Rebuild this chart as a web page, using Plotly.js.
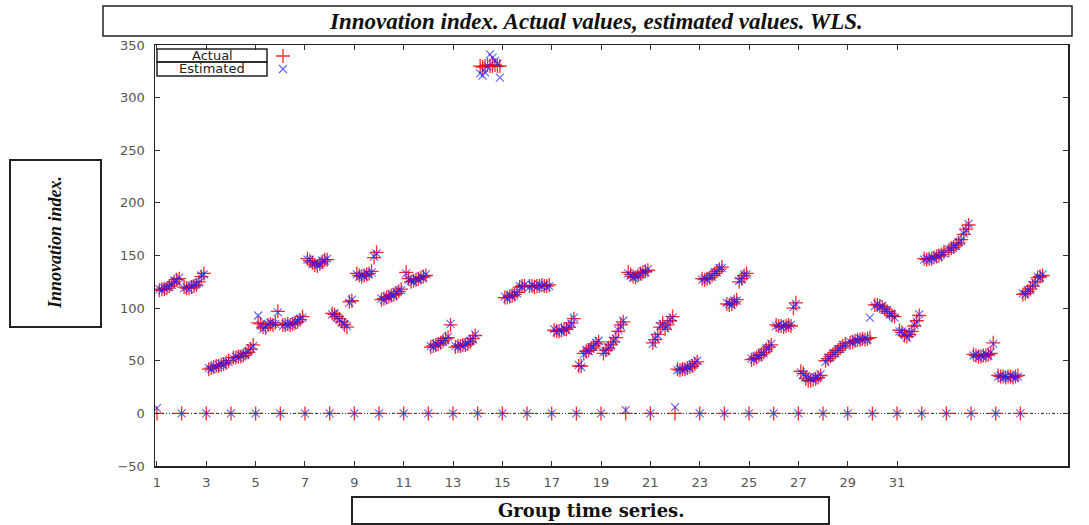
<!DOCTYPE html>
<html>
<head>
<meta charset="utf-8">
<script src="https://cdn.plot.ly/plotly-3.0.1.min.js"></script>
<style>html,body{margin:0;padding:0;background:#fff;}#chart{width:1089px;height:525px;}</style>
</head>
<body>
<div id="chart"></div>
<script>
// ---------- DATA ----------
const groupIds = [1,2,3,4,5,6,7,8,9,10,11,12,13,14,15,16,17,18,19,20,21,22,23,24,25,26,27,28,29,30,31,32,33,34,35,36];
const zeroActual = [0,0,0,0,0,0,0,0,0,0,0,0,0,0,0,0,0,0,0,0,0,0,0,0,0,0,0,0,0,0,0,0,0,0,0,0];
const zeroEstimated = [5,0,0,0,0,0,0,0,0,0,0,0,0,0,0,0,0,0,0,3,0,6,0,0,0,0,0,0,0,0,0,0,0,0,0,0];
const actualValues = [
  [117,118,118,119,121,123,125,127,128],
  [120,119,119,120,121,122,125,130,133],
  [42,43,44,45,45,46,47,48,50],
  [53,53,54,54,55,57,58,61,65],
  [86,85,82,81,84,85,84,86,97],
  [84,84,85,84,85,86,87,89,92],
  [147,145,143,141,140,142,144,146,146],
  [95,94,92,90,87,84,82,106,107],
  [133,131,130,131,132,133,135,148,153],
  [108,109,110,111,112,113,114,116,118],
  [134,128,125,126,127,128,129,130,131],
  [63,64,65,66,67,69,71,72,84],
  [63,64,64,65,65,66,68,71,74],
  [330,329,330,331,330,330,331,330,330],
  [110,110,111,112,113,115,120,121,121],
  [121,121,120,121,121,122,121,121,122],
  [79,78,78,79,80,80,82,86,90],
  [45,45,57,59,60,62,64,66,68],
  [57,60,62,65,68,72,78,84,87],
  [134,132,130,129,131,133,134,135,136],
  [67,70,75,82,86,80,84,88,92],
  [42,41,42,42,43,44,45,47,49],
  [128,127,128,129,131,133,135,137,139],
  [104,103,104,106,108,125,128,131,133],
  [51,52,53,55,56,58,61,63,65],
  [84,83,83,82,83,84,83,100,105],
  [40,38,33,31,31,32,33,34,36],
  [50,52,54,56,58,60,62,64,66],
  [67,68,69,70,70,71,70,71,72],
  [103,103,102,101,99,97,95,93,92],
  [79,77,74,73,75,78,83,88,93],
  [147,146,147,147,148,149,150,151,153],
  [155,157,158,160,162,165,170,175,179],
  [56,55,54,54,55,55,56,57,67],
  [36,35,35,34,35,35,34,35,36],
  [113,114,116,118,121,125,129,130,131]
];
const estimatedValues = [
  [118,117,119,120,120,122,126,126,129],
  [119,120,118,121,122,123,124,131,132],
  [43,42,44,44,46,47,46,49,49],
  [52,54,53,55,56,56,59,62,64],
  [93,84,80,82,85,86,85,85,96],
  [83,85,84,85,84,87,88,90,91],
  [146,146,142,142,141,141,145,145,147],
  [94,95,91,89,86,85,83,105,108],
  [132,130,131,130,133,132,134,149,152],
  [109,108,111,110,113,112,115,117,117],
  [133,127,126,125,128,127,130,129,132],
  [64,63,66,65,68,68,70,73,85],
  [64,63,65,64,66,67,69,70,75],
  [323,321,324,330,341,338,335,332,319],
  [111,109,112,111,114,114,121,120,122],
  [120,122,121,120,122,121,122,120,121],
  [80,77,79,78,81,79,83,85,91],
  [46,44,56,60,59,63,63,67,69],
  [58,59,63,64,69,71,79,83,88],
  [133,131,129,130,130,132,135,134,137],
  [66,71,74,83,85,81,83,89,91],
  [41,42,41,43,44,43,46,48,50],
  [127,128,127,130,130,134,134,138,138],
  [105,104,103,107,107,126,127,132,132],
  [52,51,54,54,57,57,62,62,66],
  [83,84,82,83,84,83,84,101,104],
  [39,37,35,34,33,32,34,35,37],
  [49,53,53,57,57,61,61,65,65],
  [68,67,70,69,71,70,71,70,91],
  [102,104,101,102,98,98,94,94,91],
  [78,78,75,72,76,77,84,87,94],
  [146,147,146,148,147,150,149,152,152],
  [156,156,159,159,163,164,171,174,180],
  [55,56,53,55,54,56,55,58,66],
  [35,36,34,35,34,36,35,34,35],
  [114,113,117,117,122,124,130,129,132]
];
const xTickVals = [1,3,5,7,9,11,13,15,17,19,21,23,25,27,29,31];
const xTickText = ["1","3","5","7","9","11","13","15","17","19","21","23","25","27","29","31"];
const yTickVals = [-50,0,50,100,150,200,250,300,350];
const titleText = "Innovation index. Actual values, estimated values. WLS.";
const yTitleText = "Innovation index.";
const xTitleText = "Group time series.";
const legendLabels = ["Actual", "Estimated"];

// ---------- BUILD SERIES ----------
function build(zeros, groups) {
  const xs = [], ys = [];
  groupIds.forEach((g, i) => {
    const vals = groups[i];
    const step = 1 / (vals.length + 1);
    xs.push(g); ys.push(zeros[i]);
    vals.forEach((v, t) => { xs.push(g + (t + 1) * step); ys.push(v); });
  });
  return {xs, ys};
}
const A = build(zeroActual, actualValues);
const E = build(zeroEstimated, estimatedValues);

// pixel helpers for decorations (plot area: left 155, right 1068, top 45, bottom 466)
const L = 155, R = 1068, T = 45, B = 466;
const px = v => (v - L) / (R - L);
const py = v => (B - v) / (B - T);

const traces = [
  {x: A.xs, y: A.ys, type: 'scatter', mode: 'markers', name: ' ', legend: 'legend',
   marker: {symbol: 'cross-thin-open', size: 10, color: 'rgba(255,0,0,0.85)', line: {width: 1.3, color: 'rgba(255,0,0,0.85)'}}},
  {x: E.xs, y: E.ys, type: 'scatter', mode: 'markers', name: ' ', legend: 'legend2',
   marker: {symbol: 'x-thin-open', size: 8, color: 'rgba(30,30,255,0.7)', line: {width: 1.1, color: 'rgba(30,30,255,0.7)'}}}
];

const axisFont = {family: 'DejaVu Sans, sans-serif', size: 13, color: '#555'};
const titleFont = {family: 'Liberation Serif, serif', size: 23, color: '#111', weight: 'bold', style: 'italic'};

const rect = (x0, y0, x1, y1, w) => ({type: 'rect', xref: 'paper', yref: 'paper',
  x0: px(x0), x1: px(x1), y0: py(y0), y1: py(y1), line: {color: '#222', width: w}, fillcolor: 'rgba(0,0,0,0)'});

const layout = {
  width: 1089, height: 525,
  margin: {l: L, r: 1089 - R, t: T, b: 525 - B, pad: 0},
  paper_bgcolor: '#fff', plot_bgcolor: '#fff',
  showlegend: true,
  legend: {x: px(263), y: py(56), xanchor: 'left', yanchor: 'middle', bgcolor: 'rgba(0,0,0,0)', borderwidth: 0, font: {size: 10}},
  legend2: {x: px(263), y: py(69), xanchor: 'left', yanchor: 'middle', bgcolor: 'rgba(0,0,0,0)', borderwidth: 0, font: {size: 10}},
  xaxis: {range: [0.92, 37.93], tickvals: xTickVals, ticktext: xTickText, ticks: 'inside', ticklen: 5, tickwidth: 1,
          tickcolor: '#333', showline: true, linecolor: '#222', linewidth: 1.5, mirror: 'ticks',
          showgrid: false, zeroline: false, tickfont: axisFont, ticklabelstandoff: 4},
  yaxis: {range: [-50, 350], tickvals: yTickVals, ticks: 'inside', ticklen: 5, tickwidth: 1,
          tickcolor: '#333', showline: true, linecolor: '#222', linewidth: 1.5, mirror: 'ticks',
          showgrid: false, zeroline: false, tickfont: axisFont, ticklabelstandoff: 6},
  shapes: [
    {type: 'line', xref: 'paper', yref: 'y', x0: 0, x1: 1, y0: 0, y1: 0, layer: 'below',
     line: {color: '#222', width: 1, dash: '1px,2px,1px,2px,3px,2px'}},
    rect(103, 6, 1072, 36, 1.5),
    rect(10, 160, 101, 327, 2),
    rect(352, 497, 829, 524, 2),
    rect(157, 49, 267, 62, 1.5),
    rect(157, 62, 267, 76, 1.5)
  ],
  annotations: [
    {xref: 'paper', yref: 'paper', x: px(596), y: py(21), text: titleText, showarrow: false,
     xanchor: 'center', yanchor: 'middle', font: titleFont},
    {xref: 'paper', yref: 'paper', x: px(55), y: py(243), text: yTitleText, showarrow: false, textangle: -90,
     xanchor: 'center', yanchor: 'middle', font: {family: 'Liberation Serif, serif', size: 18, color: '#111', weight: 'bold', style: 'italic'}},
    {xref: 'paper', yref: 'paper', x: px(591), y: py(511), text: xTitleText, showarrow: false,
     xanchor: 'center', yanchor: 'middle', font: {family: 'DejaVu Serif, serif', size: 18, color: '#111', weight: 'bold'}},
    {xref: 'paper', yref: 'paper', x: px(212), y: py(55.5), text: legendLabels[0], showarrow: false,
     xanchor: 'center', yanchor: 'middle', font: {family: 'DejaVu Sans, sans-serif', size: 13, color: '#222'}},
    {xref: 'paper', yref: 'paper', x: px(212), y: py(69), text: legendLabels[1], showarrow: false,
     xanchor: 'center', yanchor: 'middle', font: {family: 'DejaVu Sans, sans-serif', size: 13, color: '#222'}}
  ]
};

Plotly.newPlot('chart', traces, layout, {displayModeBar: false, staticPlot: true});
</script>
</body>
</html>
